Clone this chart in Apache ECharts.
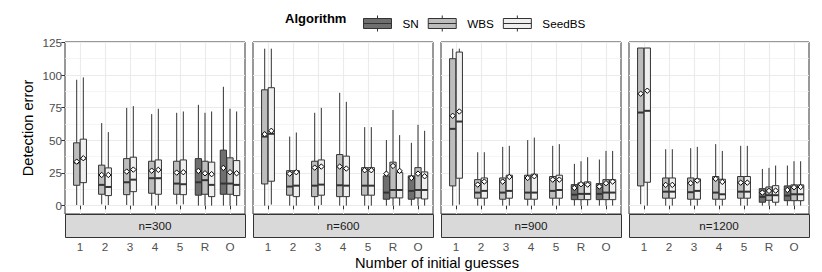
<!DOCTYPE html>
<html>
<head>
<meta charset="utf-8">
<script src="https://cdn.jsdelivr.net/npm/echarts@6/dist/echarts.min.js"></script>
<style>html,body{margin:0;padding:0;background:#fff}#chart{width:822px;height:272px}</style>
</head>
<body>
<div id="chart"></div>
<script>
// ---------- data ----------
const categories = ['1', '2', '3', '4', '5', 'R', 'O'];
const facets = ['n=300', 'n=600', 'n=900', 'n=1200'];
const algorithms = ['SN', 'WBS', 'SeedBS'];
const yTicks = [0, 25, 50, 75, 100, 125];
const yMinorTicks = [12.5, 37.5, 62.5, 87.5, 112.5];

// box stats per category: [lower whisker, Q1, median, Q3, upper whisker]
const SN_300 = [null, null, null, null, null, [0, 8.0, 17.9, 36.0, 77.2], [0, 8.7, 16.9, 42.5, 91.0]];
const SN_300_mean = [null, null, null, null, null, 26.6, 28.9];
const WBS_300 = [[0.5, 15.6, 33, 48.1, 96.4], [1, 8.7, 15.9, 31.0, 63.2], [0.5, 8.4, 17.9, 36.0, 74.9], [0, 9.5, 21.0, 34.0, 70.1], [1, 8.7, 16.9, 34.0, 71.1], [0, 8.7, 19.5, 34.0, 71.1], [0, 8.7, 16.9, 36.6, 74.2]];
const WBS_300_mean = [33.7, 23.5, 26.1, 26.8, 25.3, 24.8, 25.6];
const SeedBS_300 = [[0.5, 17.6, 36, 50.9, 98.2], [0.5, 7.7, 14.3, 28.9, 56.3], [0, 10.7, 19.9, 37.1, 76.2], [0, 8.7, 21.0, 35.0, 74.2], [1, 8.4, 16.4, 35.0, 72.1], [0, 6.9, 15.9, 33.3, 72.1], [0, 7.7, 15.9, 34.5, 72.1]];
const SeedBS_300_mean = [36.3, 23.5, 27.6, 27.4, 25.6, 24.1, 24.8];

const SN_600 = [null, null, null, null, null, [0, 4.9, 10.0, 22.8, 50.2], [0, 4.9, 11.3, 22.8, 48.1]];
const SN_600_mean = [null, null, null, null, null, 24.5, 21.2];
const WBS_600 = [[0, 16.6, 52.9, 88.7, 120.2], [0, 8.0, 14.6, 26.8, 52.9], [0, 6.9, 15.3, 34.0, 71.1], [0, 6.9, 15.6, 39.1, 86.4], [0, 8.0, 15.3, 29.1, 60.1], [0, 5.9, 12.0, 33.3, 73.2], [0, 5.9, 12.0, 29.1, 61.9]];
const WBS_600_mean = [54.7, 24.5, 29.1, 29.9, 27.1, 30.4, 24.5];
const SeedBS_600 = [[0.8, 18.7, 55, 90.3, 120.2], [0, 6.9, 15.3, 26.8, 56.0], [0.5, 8.0, 16.1, 35.0, 74.9], [0, 6.9, 15.3, 37.9, 79.5], [0, 8.0, 15.3, 29.1, 60.1], [0, 5.9, 12.0, 25.3, 54.0], [0, 5.1, 12.0, 25.8, 57.3]];
const SeedBS_600_mean = [57.3, 25.6, 29.9, 28.4, 27.1, 26.6, 22.5];

const SN_900 = [null, null, null, null, null, [0, 4.6, 8.4, 16.1, 32.0], [0, 4.6, 9.0, 16.9, 35.3]];
const SN_900_mean = [null, null, null, null, null, 13.6, 14.6];
const WBS_900 = [[0, 15.1, 58.8, 112.5, 120.2], [0, 5.7, 10.0, 19.9, 40.9], [0, 4.9, 10.0, 21.2, 45.0], [0, 4.9, 10.0, 23.3, 50.2], [0, 5.7, 11.3, 22.3, 45.8], [0, 4.6, 9.0, 17.4, 34.0], [0, 4.6, 10.0, 19.9, 41.9]];
const WBS_900_mean = [68.8, 16.1, 18.4, 21.2, 19.9, 16.4, 17.2];
const SeedBS_900 = [[0.8, 21.0, 64.4, 117.6, 120.2], [0, 5.7, 11.3, 21.2, 40.9], [0, 5.7, 11.3, 23.3, 45.8], [0, 4.9, 10.0, 24.1, 52.1], [0, 5.7, 12.0, 23.3, 47.1], [0, 4.6, 9.0, 18.2, 37.1], [0, 4.6, 10.0, 19.9, 41.9]];
const SeedBS_900_mean = [72.1, 18.4, 22.0, 22.5, 19.9, 16.1, 18.4];

const SN_1200 = [null, null, null, null, null, [0, 2.6, 6.7, 13.0, 28.1], [0, 3.8, 7.7, 15.1, 30.7]];
const SN_1200_mean = [null, null, null, null, null, 10.0, 12.0];
const WBS_1200 = [[1.1, 15.1, 71.3, 120.7, 120.7], [0, 5.7, 10.7, 21.2, 43.2], [0, 4.9, 10.3, 21.2, 44.0], [0, 4.9, 10.0, 22.3, 47.1], [0, 5.7, 10.7, 22.3, 45.8], [0, 4.1, 8.0, 14.3, 28.9], [0, 3.8, 8.7, 15.9, 34.0]];
const WBS_1200_mean = [85.7, 15.9, 17.2, 20.5, 17.6, 11.3, 14.1];
const SeedBS_1200 = [[0, 17.9, 72.6, 120.7, 120.7], [0, 5.7, 10.7, 21.2, 43.2], [0, 4.9, 11.3, 20.5, 45.0], [0, 4.9, 8.7, 20.2, 41.9], [0, 5.7, 10.7, 22.3, 45.8], [0, 2.6, 8.0, 15.3, 30.7], [0, 3.8, 8.7, 15.9, 34.0]];
const SeedBS_1200_mean = [88.0, 15.9, 19.2, 18.2, 17.6, 11.5, 14.3];

// ---------- assembly ----------
const stats = [
  { SN: [SN_300, SN_300_mean], WBS: [WBS_300, WBS_300_mean], SeedBS: [SeedBS_300, SeedBS_300_mean] },
  { SN: [SN_600, SN_600_mean], WBS: [WBS_600, WBS_600_mean], SeedBS: [SeedBS_600, SeedBS_600_mean] },
  { SN: [SN_900, SN_900_mean], WBS: [WBS_900, WBS_900_mean], SeedBS: [SeedBS_900, SeedBS_900_mean] },
  { SN: [SN_1200, SN_1200_mean], WBS: [WBS_1200, WBS_1200_mean], SeedBS: [SeedBS_1200, SeedBS_1200_mean] }
];

const FONT = '"Liberation Sans", Arial, Helvetica, sans-serif';
const TICK_TEXT = '#4d4d4d';
const fills = { SN: '#6f6f6f', WBS: '#bdbdbd', SeedBS: '#efefef' };
const LINE = '#333333';
const PANEL_LEFT0 = 65, PANEL_W = 180, PANEL_GAP = 8, PANEL_TOP = 42, PANEL_H = 172, STRIP_H = 23;
const Y_MIN = -6.4, Y_MAX = 125.3;
const SLOT = 0.265, BOX_W = 0.25;

function renderBox(params, api) {
  const x = api.value(0);
  const low = api.value(1), q1 = api.value(2), med = api.value(3), q3 = api.value(4), high = api.value(5);
  const mean = api.value(6), off = api.value(7);
  const unit = api.size([1, 0])[0];
  const cx = api.coord([x + off, 0])[0];
  const w = BOX_W * unit;
  const Y = v => api.coord([x, v])[1];
  const fill = api.visual('color');
  const my = Y(mean), d = 2.7;
  return {
    type: 'group',
    children: [
      { type: 'line', shape: { x1: cx, y1: Y(high), x2: cx, y2: Y(q3) }, style: { stroke: LINE, lineWidth: 1 } },
      { type: 'line', shape: { x1: cx, y1: Y(q1), x2: cx, y2: Y(low) }, style: { stroke: LINE, lineWidth: 1 } },
      { type: 'rect', shape: { x: cx - w / 2, y: Y(q3), width: w, height: Y(q1) - Y(q3) }, style: { fill: fill, stroke: LINE, lineWidth: 1 } },
      { type: 'line', shape: { x1: cx - w / 2, y1: Y(med), x2: cx + w / 2, y2: Y(med) }, style: { stroke: LINE, lineWidth: 2 } },
      { type: 'polygon', shape: { points: [[cx, my - d], [cx + d, my], [cx, my + d], [cx - d, my]] }, style: { fill: '#ffffff', stroke: '#000000', lineWidth: 1 } }
    ]
  };
}

const grids = [], xAxes = [], yAxes = [], series = [], graphics = [];
facets.forEach((facet, f) => {
  const left = PANEL_LEFT0 + f * (PANEL_W + PANEL_GAP);
  grids.push({ left: left, top: PANEL_TOP, width: PANEL_W, height: PANEL_H, show: true, backgroundColor: '#ffffff', borderColor: LINE, borderWidth: 1, containLabel: false });
  xAxes.push({
    gridIndex: f, type: 'value', min: 0.4, max: 7.6, offset: STRIP_H,
    axisLine: { show: false },
    axisTick: { show: true, customValues: [1, 2, 3, 4, 5, 6, 7], length: 3.7, lineStyle: { color: LINE } },
    axisLabel: {
      customValues: [1, 2, 3, 4, 5, 6, 7],
      formatter: v => categories[Math.round(v) - 1],
      color: '#505050', fontSize: 11.7, margin: 3,
      textBorderWidth: 0, textShadowBlur: 0, opacity: 1
    },
    splitLine: { show: true, lineStyle: { color: '#ebebeb', width: 1.1 } }
  });
  yAxes.push({
    gridIndex: f, type: 'value', min: Y_MIN, max: Y_MAX,
    axisLine: { show: false },
    axisTick: { show: f === 0, customValues: yTicks, length: 3.7, lineStyle: { color: LINE } },
    axisLabel: { show: f === 0, customValues: yTicks, color: TICK_TEXT, fontSize: 11.7, margin: 3 },
    splitLine: { show: true, lineStyle: { color: '#ebebeb', width: 1.1 } },
    name: f === 0 ? 'Detection error' : '', nameLocation: 'middle', nameGap: 30,
    nameTextStyle: { fontSize: 14.6, color: '#000' }
  });
  yAxes.push({
    gridIndex: f, type: 'value', min: Y_MIN, max: Y_MAX, position: 'left',
    axisLine: { show: false }, axisLabel: { show: false },
    axisTick: { show: false, customValues: yMinorTicks },
    splitLine: { show: true, lineStyle: { color: '#f1f1f1', width: 0.7 } }
  });
  // strip below the panel
  graphics.push({ type: 'rect', left: left, top: PANEL_TOP + PANEL_H, shape: { width: PANEL_W, height: STRIP_H }, style: { fill: '#d9d9d9', stroke: LINE, lineWidth: 1 }, z: 10 });
  graphics.push({ type: 'text', x: left + PANEL_W / 2, y: PANEL_TOP + PANEL_H + STRIP_H / 2, style: { text: facet, fill: '#1a1a1a', fontSize: 11.7, fontFamily: FONT, textAlign: 'center', textVerticalAlign: 'middle' }, z: 11 });

  algorithms.forEach(alg => {
    const [boxes, means] = stats[f][alg];
    const data = [];
    categories.forEach((c, i) => {
      const b = boxes[i];
      if (!b) return;
      const present = algorithms.filter(a => stats[f][a][0][i]);
      const k = present.indexOf(alg);
      const off = (k - (present.length - 1) / 2) * SLOT;
      data.push([i + 1, b[0], b[1], b[2], b[3], b[4], means[i], off]);
    });
    series.push({
      type: 'custom', name: alg, xAxisIndex: f, yAxisIndex: 2 * f,
      itemStyle: { color: fills[alg] },
      encode: { x: 0, y: [1, 2, 3, 4, 5, 6] },
      renderItem: renderBox, data: data, z: 5
    });
  });
});

graphics.push({ type: 'text', x: 285, y: 18, style: { text: 'Algorithm', fill: '#000', fontSize: 13, fontWeight: 'bold', fontFamily: FONT, textVerticalAlign: 'middle' } });
graphics.push({ type: 'text', x: 437, y: 263, style: { text: 'Number of initial guesses', fill: '#000', fontSize: 14.6, fontFamily: FONT, textAlign: 'center', textVerticalAlign: 'middle' } });

const chart = echarts.init(document.getElementById('chart'), null, { renderer: 'svg' });
chart.setOption({
  animation: false,
  textStyle: { fontFamily: FONT },
  legend: {
    data: algorithms, left: 358, top: 10, itemWidth: 28, itemHeight: 16, itemGap: 9,
    icon: 'path://M0,3 L28,3 L28,13 L0,13 Z M0,8 L28,8 M14,0 L14,3 M14,13 L14,16',
    itemStyle: { borderColor: LINE, borderWidth: 1 },
    textStyle: { fontSize: 11.7, color: '#000', padding: [0, 0, 0, 6] },
    selectedMode: false
  },
  grid: grids, xAxis: xAxes, yAxis: yAxes, series: series, graphic: graphics
});
</script>
</body>
</html>
